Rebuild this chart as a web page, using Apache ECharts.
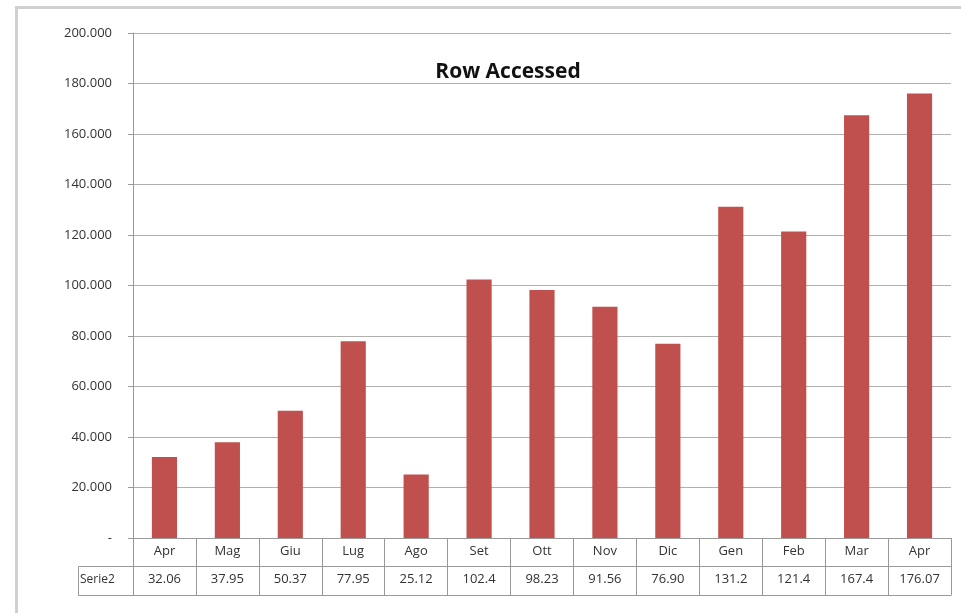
<!DOCTYPE html>
<html>
<head>
<meta charset="utf-8">
<script src="https://cdn.jsdelivr.net/npm/echarts@6/dist/echarts.min.js"></script>
<style>
  html, body { margin: 0; padding: 0; background: #fff; }
  #chart { width: 961px; height: 613px; }
</style>
</head>
<body>
<div id="chart"></div>
<script>
  // mesi (categorie)
  const months = ['Apr', 'Mag', 'Giu', 'Lug', 'Ago', 'Set', 'Ott', 'Nov', 'Dic', 'Gen', 'Feb', 'Mar', 'Apr'];
  // righe accedute (migliaia)
  const rowAccessed = [32.06, 37.95, 50.37, 77.95, 25.12, 102.4, 98.23, 91.56, 76.90, 131.2, 121.4, 167.4, 176.07];
  // testi della tabella dati, come nel foglio
  const tableLabels = ['32.06', '37.95', '50.37', '77.95', '25.12', '102.4', '98.23', '91.56', '76.90', '131.2', '121.4', '167.4', '176.07'];
  const seriesName = 'Serie2';

  const chart = echarts.init(document.getElementById('chart'));
  const txt = '#333';
  const font = 'Open Sans, Liberation Sans, sans-serif';

  const option = {
    animation: false,
    title: {
      text: 'Row Accessed',
      left: 503,
      top: 57,
      textAlign: 'center',
      textStyle: { fontSize: 21, fontWeight: 'bold', color: '#111', fontFamily: font }
    },
    grid: { left: 133, right: 10, top: 33, bottom: 75 },
    xAxis: [
      {
        type: 'category',
        data: months,
        axisLine: { lineStyle: { color: '#999', width: 1 } },
        axisTick: { show: true, interval: 0, length: 57, lineStyle: { color: '#999' } },
        axisLabel: { interval: 0, margin: 7, color: txt, fontSize: 13, fontFamily: font }
      },
      {
        type: 'category',
        data: tableLabels,
        position: 'bottom',
        offset: 28,
        axisLine: { lineStyle: { color: '#999' } },
        axisTick: { show: false },
        axisLabel: { interval: 0, margin: 7, color: txt, fontSize: 13, fontFamily: font }
      },
      {
        type: 'category',
        data: months,
        position: 'bottom',
        offset: 57,
        axisLine: { lineStyle: { color: '#999' } },
        axisTick: { show: false },
        axisLabel: { show: false }
      }
    ],
    yAxis: {
      type: 'value',
      min: 0,
      max: 200,
      interval: 20,
      axisLine: { show: true, lineStyle: { color: '#999' } },
      axisTick: { show: true, length: 5, lineStyle: { color: '#999' } },
      axisLabel: {
        margin: 21,
        color: txt,
        fontSize: 13,
        fontFamily: font,
        formatter: v => v === 0 ? '-' : v.toFixed(3)
      },
      splitLine: { lineStyle: { color: '#b0b0b0' } }
    },
    series: [
      {
        name: seriesName,
        type: 'bar',
        data: rowAccessed,
        barCategoryGap: '60%',
        itemStyle: { color: '#c0504d' }
      }
    ],
    graphic: [
      {
        type: 'rect',
        left: 14, top: 5,
        shape: { width: 1000, height: 700 },
        style: { fill: 'none', stroke: '#d0d0d0', lineWidth: 3 },
        silent: true
      },
      {
        type: 'rect',
        x: 78.5, y: 566.5,
        shape: { width: 55, height: 29 },
        style: { fill: 'none', stroke: '#999', lineWidth: 1 }
      },
      {
        type: 'text',
        x: 80, y: 574,
        style: { text: seriesName, fill: txt, font: '12px ' + font }
      }
    ]
  };

  chart.setOption(option);
</script>
</body>
</html>
